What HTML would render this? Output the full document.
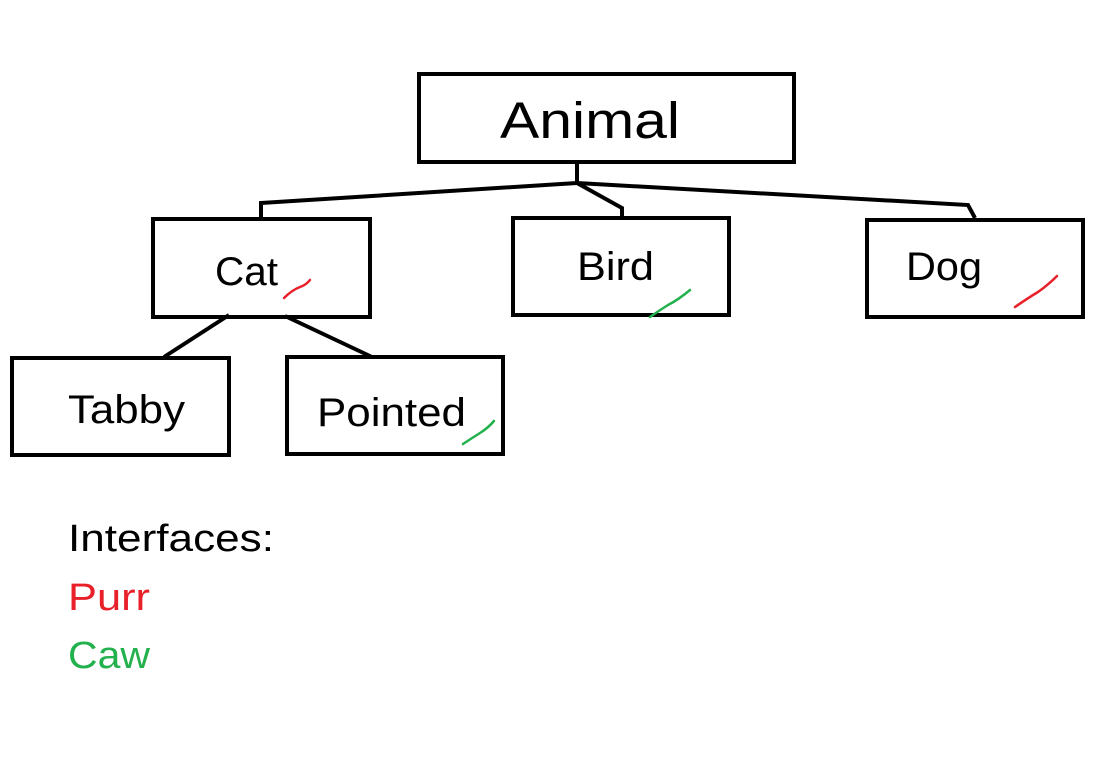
<!DOCTYPE html>
<html><head><style>
body{margin:0;width:1115px;height:764px;background:#fff;overflow:hidden}
svg{position:absolute;left:0;top:0}
text{font-family:"Liberation Sans",sans-serif}
</style></head><body>
<svg width="1115" height="764" viewBox="0 0 1115 764">
<g fill="none" stroke="#000" stroke-width="4">
<rect x="419" y="74" width="375" height="88"/>
<rect x="153" y="219" width="217" height="98"/>
<rect x="513" y="218" width="216" height="97"/>
<rect x="867" y="220" width="216" height="97"/>
<rect x="12" y="358" width="217" height="97"/>
<rect x="287" y="357" width="216" height="97"/>
<polyline points="577,163 577,183 261,203 261,218"/>
<polyline points="577,183 622,208 622,216"/>
<polyline points="577,183 968,205 975,218"/>
<line x1="229" y1="315" x2="164" y2="357"/>
<line x1="285" y1="316" x2="372" y2="357"/>
</g>
<g stroke-width="2.5" fill="none" stroke-linecap="round">
<path d="M284,298 Q292,290 300,287 Q306,285 310,280" stroke="#e8202a"/>
<path d="M650,317 Q660,310 668,305 Q678,300 690,290" stroke="#22b14c"/>
<path d="M1015,307 Q1028,298 1038,292 Q1048,285 1057,276" stroke="#e8202a"/>
<path d="M463,444 Q472,438 480,433 Q488,428 494,421" stroke="#22b14c"/>
</g>
<text x="500" y="138" font-size="51" textLength="180" lengthAdjust="spacingAndGlyphs">Animal</text>
<text x="215" y="285" font-size="40" textLength="63" lengthAdjust="spacingAndGlyphs">Cat</text>
<text x="577" y="280" font-size="40" textLength="77" lengthAdjust="spacingAndGlyphs">Bird</text>
<text x="906" y="280" font-size="40" textLength="76" lengthAdjust="spacingAndGlyphs">Dog</text>
<text x="68" y="423" font-size="40" textLength="117" lengthAdjust="spacingAndGlyphs">Tabby</text>
<text x="317" y="426" font-size="40" textLength="149" lengthAdjust="spacingAndGlyphs">Pointed</text>
<text x="68" y="551" font-size="38" textLength="206" lengthAdjust="spacingAndGlyphs">Interfaces:</text>
<text x="68" y="610" font-size="38" fill="#e8202a" textLength="82" lengthAdjust="spacingAndGlyphs">Purr</text>
<text x="68" y="668" font-size="38" fill="#22b14c" textLength="82" lengthAdjust="spacingAndGlyphs">Caw</text>
</svg>
</body></html>
